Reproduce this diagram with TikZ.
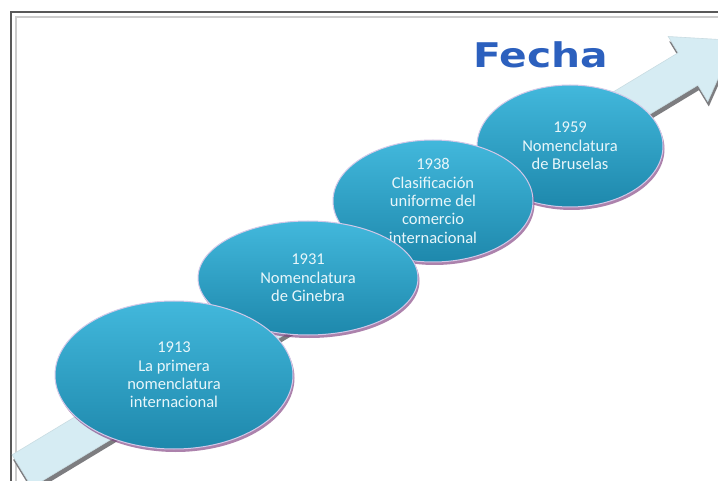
\documentclass[tikz,border=0pt]{standalone}
\usepackage{fontspec}
\setmainfont{Carlito}
\newfontfamily\fechafont{DejaVu Sans}
\usetikzlibrary{shapes.geometric,shadows}

\definecolor{ovaltop}{RGB}{66,184,220}
\definecolor{ovalbot}{RGB}{30,136,172}
\definecolor{ovalrim}{RGB}{210,200,232}
\definecolor{ovaltext}{RGB}{232,246,250}
\definecolor{arrowfill}{RGB}{214,236,243}
\definecolor{arrowside}{RGB}{125,125,128}
\definecolor{fechablue}{RGB}{44,96,190}

\begin{document}
\begin{tikzpicture}[x=1pt,y=-1pt]
\tikzstyle{every node}+=[inner sep=0pt]
\tikzstyle{oval}=[ellipse, draw=ovalrim, line width=1pt, top color=ovaltop, bottom color=ovalbot,
  text=ovaltext, align=center, font=\fontsize{16.5}{18.3}\selectfont,
  drop shadow={shadow xshift=1.5pt, shadow yshift=-3pt, fill=violet!50!gray, opacity=0.65}]
\tikzstyle{fechatext}=[font=\fechafont\bfseries\fontsize{34}{34}\selectfont, xscale=1.2]
\path[use as bounding box] (0,0) rectangle (718,481);
\clip (0,0) rectangle (718,481);
\fill[white] (0,0) rectangle (718,481);
\draw[gray!70!black, line width=2pt] (11,481) -- (11,12) -- (718,12);
\draw[gray!40, line width=1.5pt] (16,481) -- (16,17) -- (718,17);
\fill[arrowside, shift={(1,5)}] (12.1,454.8) -- (678.1,52.8) -- (668.2,36.5) -- (735,40.4)
  -- (707.8,101.5) -- (697.9,85.2) -- (31.9,487.2) -- cycle;
\filldraw[fill=arrowfill, draw=arrowfill!85!gray, line width=0.6pt] (12.1,454.8) -- (678.1,52.8)
  -- (668.2,36.5) -- (735,40.4) -- (707.8,101.5) -- (697.9,85.2) -- (31.9,487.2) -- cycle;
\node[fechatext, text=fechablue] (fecha) at (541,55) {Fecha};
\node[oval, minimum width=186pt, minimum height=122pt] (y1959) at (570,146) {1959\\Nomenclatura\\de Bruselas};
\node[oval, minimum width=200pt, minimum height=122pt] (y1938) at (433,201) {1938\\Clasificación\\uniforme del\\comercio\\internacional};
\node[oval, minimum width=220pt, minimum height=114pt] (y1931) at (308,278) {1931\\Nomenclatura\\de Ginebra};
\node[oval, minimum width=238pt, minimum height=148pt] (y1913) at (174,375) {1913\\La primera\\nomenclatura\\internacional};
\end{tikzpicture}
\end{document}
